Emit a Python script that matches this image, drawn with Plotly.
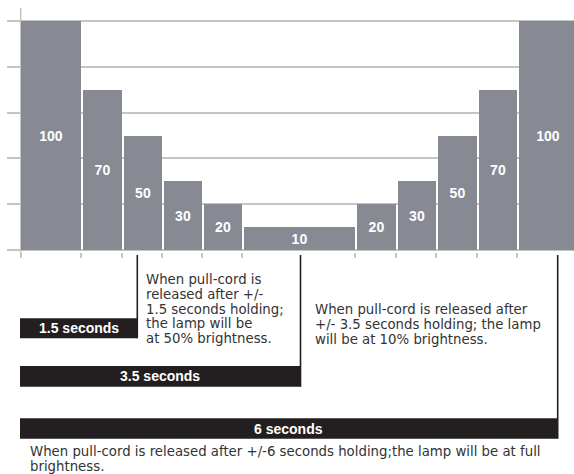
import numpy as np
import plotly.graph_objects as go

# ---------------- data ----------------
brightness = [100, 70, 50, 30, 20, 10, 20, 30, 50, 70, 100]
step_durations = [1.5, 1.03, 1.0, 1.0, 1.0, 2.81, 1.03, 0.99, 1.01, 1.0, 1.5]
y_ticks = [0, 20, 40, 60, 80, 100]

hold_labels = ["1.5 seconds", "3.5 seconds", "6 seconds"]
desc_15 = ["When pull-cord is", "released after +/-", "1.5 seconds holding;",
           "the lamp will be", "at 50% brightness."]
desc_35 = ["When pull-cord is released after", "+/- 3.5 seconds holding; the lamp",
           "will be at 10% brightness."]
desc_6 = ["When pull-cord is released after +/-6 seconds holding;the lamp will be at full",
          "brightness."]

# ---------------- layout helpers ----------------
W, H = 574, 474
PX_PER_UNIT = 40.1
X_ORIGIN_PX = 20.7      # pixel of first bar's left edge
BASE_PX = 250.0         # pixel of y = 0
PX_PER_Y = 2.29
GRID = "#c4c4c4"
BAR = "#878a93"
DARK = "#231f20"
TXT = "#333333"


def px(x):
    return x / W


def py(y):
    return 1 - y / H


edges = np.concatenate([[0], np.cumsum(step_durations)])
gap = 2 / PX_PER_UNIT
lefts = edges[:-1] + np.array([0] + [gap] * (len(step_durations) - 1))
rights = edges[1:]
centers = (lefts + rights) / 2
widths = rights - lefts

fig = go.Figure()
fig.add_trace(go.Bar(
    x=centers, y=brightness, width=widths,
    marker=dict(color=BAR, line=dict(width=0)),
    text=[str(v) for v in brightness],
    textposition="inside", insidetextanchor="middle",
    textfont=dict(color="white", size=14, family="Liberation Sans, Arial", weight="bold"),
    hoverinfo="skip", showlegend=False,
))

# axes ranges in data units mapped to pixels
x_dom0 = 7
x0 = (x_dom0 - X_ORIGIN_PX) / PX_PER_UNIT
x1 = (W - X_ORIGIN_PX) / PX_PER_UNIT
y_min = -1.0
y_top_px = 8
y_max = (BASE_PX - y_top_px) / PX_PER_Y
y_dom_bottom_px = BASE_PX - y_min * PX_PER_Y

shapes = []
# y-axis line
shapes.append(dict(type="line", xref="x", yref="paper", x0=0, x1=0,
                   y0=py(8), y1=py(257), line=dict(color=GRID, width=1.5), layer="below"))

# black duration boxes and vertical lines
boxes = [  # (right px, top px, bottom px)
    (137.3, 318.3, 338.3),
    (300.5, 366.0, 386.7),
    (557.7, 418.3, 438.7),
]
annotations = []
for lab, (r, t, b) in zip(hold_labels, boxes):
    shapes.append(dict(type="rect", xref="paper", yref="paper", x0=px(20), x1=px(r),
                       y0=py(b), y1=py(t), fillcolor=DARK, line=dict(width=0)))
    shapes.append(dict(type="line", xref="paper", yref="paper", x0=px(r), x1=px(r),
                       y0=py(255), y1=py(b), line=dict(color=DARK, width=1.6)))
    annotations.append(dict(xref="paper", yref="paper", x=px((20 + r) / 2), y=py((t + b) / 2),
                            text=lab, showarrow=False, xanchor="center", yanchor="middle",
                            font=dict(color="white", size=14, family="Liberation Sans, Arial",
                                      weight="bold")))


def add_lines(lines, left, y_first, step):
    for i, s in enumerate(lines):
        annotations.append(dict(xref="paper", yref="paper", x=px(left), y=py(y_first + i * step),
                                text=s, showarrow=False, xanchor="left", yanchor="middle",
                                font=dict(color=TXT, size=13.3, family="DejaVu Sans")))


add_lines(desc_15, 144.0, 279.5, 14.8)
add_lines(desc_35, 313.0, 309.0, 15.0)
add_lines(desc_6, 27.5, 451.7, 15.0)

fig.update_layout(
    width=W, height=H,
    margin=dict(l=0, r=0, t=0, b=0),
    paper_bgcolor="white", plot_bgcolor="white",
    bargap=0,
    xaxis=dict(domain=[px(x_dom0), 1], range=[x0, x1], showgrid=False, zeroline=False,
               showline=False, tickmode="array", tickvals=list(edges), ticks="outside",
               ticklen=5, tickwidth=1.5, tickcolor=GRID, showticklabels=False, fixedrange=True),
    yaxis=dict(domain=[py(y_dom_bottom_px), py(y_top_px)], range=[y_min, y_max],
               tickmode="array", tickvals=y_ticks, showgrid=True, gridcolor=GRID,
               gridwidth=1.5, zeroline=False, showline=False, showticklabels=False,
               ticks="", fixedrange=True),
    shapes=shapes,
    annotations=annotations,
)

fig.write_html("out.html", config={"displayModeBar": False},
               post_script="document.body.style.margin='0';document.body.style.overflow='hidden';")
